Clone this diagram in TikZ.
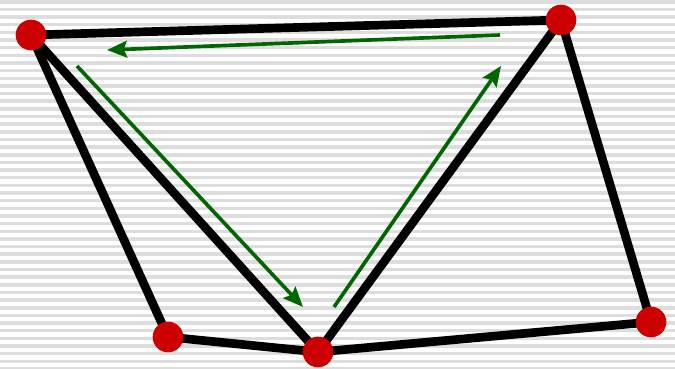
\documentclass[tikz,border=0pt]{standalone}
\usepackage{tikz}
\usetikzlibrary{arrows.meta}
\definecolor{rojo}{HTML}{CC0000}
\definecolor{verde}{HTML}{006600}
\definecolor{raya}{HTML}{DDDDDD}
\pgfdeclarelayer{fondo}
\pgfdeclarelayer{aristas}
\pgfsetlayers{fondo,aristas,main}

\begin{document}
\begin{tikzpicture}[
      x=0.75pt,y=-0.75pt,
      vertice/.style={circle,fill=rojo,draw=none,minimum size=23pt,inner sep=0pt,outer sep=0pt},
      arista/.style={draw=black,line width=6.5pt},
      giro/.style={-{Stealth[length=15pt,width=12.5pt,inset=2.5pt]},draw=verde,fill=verde,line width=2.75pt}]
    \useasboundingbox (0,0) rectangle (675,368);
    \begin{pgfonlayer}{fondo}
      \foreach \i in {0,...,48} \fill[raya] (0,\i*7.65) rectangle (675,\i*7.65+3.5);
    \end{pgfonlayer}
    \node[vertice] (v1) at (31,35) {};
    \node[vertice] (v2) at (561,20) {};
    \node[vertice] (v3) at (168,337) {};
    \node[vertice] (v4) at (318,352) {};
    \node[vertice] (v5) at (651,322) {};
    \begin{pgfonlayer}{aristas}
      \foreach \a/\b in {v1/v2,v1/v3,v1/v4,v3/v4,v4/v2,v4/v5,v2/v5}
        \draw[arista] (\a.center) -- (\b.center);
    \end{pgfonlayer}
    % recorrido del triangulo
    \coordinate (g1) at (500,35);
    \coordinate (g2) at (107,50);
    \coordinate (g3) at (77,66);
    \coordinate (g4) at (303,307);
    \coordinate (g5) at (334,307);
    \coordinate (g6) at (501,66);
    \draw[giro] (g1) -- (g2);
    \draw[giro] (g3) -- (g4);
    \draw[giro] (g5) -- (g6);
  \end{tikzpicture}
\end{document}
